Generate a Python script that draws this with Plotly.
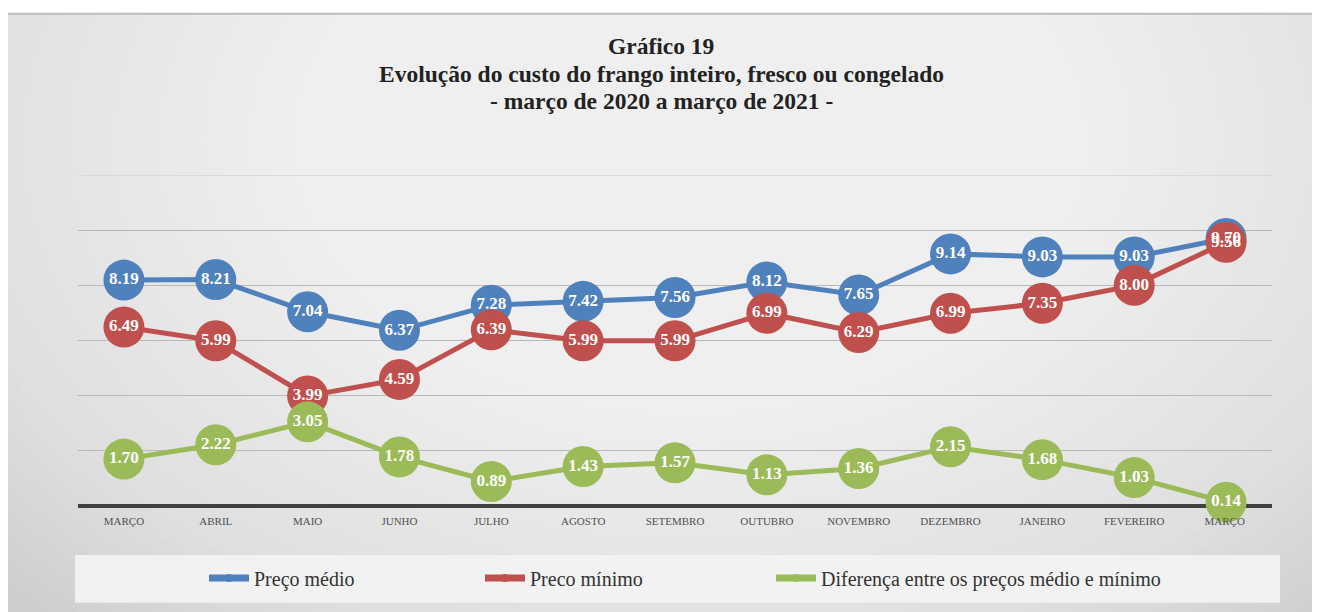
import plotly.graph_objects as go

meses = ["MARÇO", "ABRIL", "MAIO", "JUNHO", "JULHO", "AGOSTO", "SETEMBRO",
         "OUTUBRO", "NOVEMBRO", "DEZEMBRO", "JANEIRO", "FEVEREIRO", "MARÇO "]
preco_medio = [8.19, 8.21, 7.04, 6.37, 7.28, 7.42, 7.56, 8.12, 7.65, 9.14, 9.03, 9.03, 9.70]
preco_minimo = [6.49, 5.99, 3.99, 4.59, 6.39, 5.99, 5.99, 6.99, 6.29, 6.99, 7.35, 8.00, 9.56]
diferenca = [1.70, 2.22, 3.05, 1.78, 0.89, 1.43, 1.57, 1.13, 1.36, 2.15, 1.68, 1.03, 0.14]

nomes = ["Preço médio", "Preco mínimo", "Diferença entre os preços médio e mínimo"]
cores = ["#4f81bd", "#c0504d", "#9bbb59"]
series = [preco_medio, preco_minimo, diferenca]

OFF = 8  # page body margin
W, H = 1320 - OFF, 612 - OFF
# plot area in page pixels
PL, PR, PT, PB = 78, 1272, 174.5, 506
L, R, T, B = PL - OFF, W - (PR - OFF), PT - OFF, H - (PB - OFF)
PW, PH = W - L - R, H - T - B


def px(x):
    return (x - OFF - L) / PW


def py(y):
    return (H - B - (y - OFF)) / PH


FONT = "Liberation Serif"

fig = go.Figure()

for nome, cor, vals in zip(nomes, cores, series):
    fig.add_trace(go.Scatter(
        x=meses, y=vals, mode="lines+markers", name=nome,
        line=dict(color=cor, width=5),
        marker=dict(size=41, color=cor),
        showlegend=False, cliponaxis=False, hoverinfo="skip"))

for nome, cor, vals in zip(nomes, cores, series):
    fig.add_trace(go.Scatter(
        x=meses, y=vals, mode="text", text=[f"{v:.2f}" for v in vals],
        textposition="middle center",
        textfont=dict(family=FONT, size=17, color="white", weight="bold"),
        showlegend=False, cliponaxis=False, hoverinfo="skip"))

legend_ids = ["legend", "legend2", "legend3"]
text_starts = [255, 531, 822]
for nome, cor, lg in zip(nomes, cores, legend_ids):
    fig.add_trace(go.Scatter(
        x=[None], y=[None], mode="lines+markers", name=nome, legend=lg,
        line=dict(color=cor, width=7), marker=dict(size=8, color=cor)))

shapes = []
shapes.append(dict(type="rect", xref="paper", yref="paper", layer="below",
                   x0=px(7), x1=px(1340), y0=py(13), y1=py(630),
                   fillcolor="#cdcdcd", line=dict(width=0)))
n = 40
for i in range(n):
    f = 1 - i / n
    rx, ry = 900 * f + 40, 620 * f + 30
    cx, cy = 690, 140
    shapes.append(dict(type="circle", xref="paper", yref="paper", layer="below",
                       x0=px(cx - rx), x1=px(cx + rx), y0=py(cy - ry), y1=py(cy + ry),
                       fillcolor="rgba(255,255,255,0.06)", line=dict(width=0)))
shapes.append(dict(type="line", xref="paper", yref="paper", layer="below",
                   x0=px(7), x1=px(1340), y0=py(13), y1=py(13),
                   line=dict(color="#bdbdbd", width=2)))
shapes.append(dict(type="rect", xref="paper", yref="paper", layer="below",
                   x0=px(75), x1=px(1280), y0=py(555), y1=py(603),
                   fillcolor="rgba(243,243,243,0.92)", line=dict(width=0)))
# top gridline (at the axis maximum)
shapes.append(dict(type="line", xref="paper", yref="y", layer="below",
                   x0=0, x1=1, y0=12, y1=12, line=dict(color="#d4d4d4", width=1.3)))
shapes.append(dict(type="line", xref="paper", yref="paper", layer="below",
                   x0=0, x1=1, y0=0, y1=0, line=dict(color="#404040", width=4)))

titulos = ["Gráfico 19",
           "Evolução do custo do frango inteiro, fresco ou congelado",
           "- março de 2020 a março de 2021 -"]
ann = []
for t, yy in zip(titulos, [45, 73, 100]):
    ann.append(dict(text=t, xref="paper", yref="paper", x=px(661), y=py(yy),
                    xanchor="center", yanchor="middle", showarrow=False,
                    font=dict(family=FONT, size=23.5, color="#222222", weight="bold")))

layout_legends = {}
for lg, xs in zip(legend_ids, text_starts):
    layout_legends[lg] = dict(
        orientation="h", x=px(xs - 51), xanchor="left", y=py(578), yanchor="middle",
        font=dict(family=FONT, size=20, color="#333333"),
        bgcolor="rgba(0,0,0,0)", itemwidth=40)

fig.update_layout(
    width=W, height=H,
    margin=dict(l=L, r=R, t=T, b=B),
    paper_bgcolor="white", plot_bgcolor="rgba(0,0,0,0)",
    shapes=shapes, annotations=ann,
    xaxis=dict(type="category", range=[-0.5, 12.5], showgrid=False,
               showline=False, zeroline=False, ticks="", ticklabelstandoff=7,
               tickfont=dict(family=FONT, size=11, color="#505050")),
    yaxis=dict(range=[0, 12], dtick=2, showgrid=True, gridcolor="#b8b8b8",
               gridwidth=1.3, showticklabels=False, zeroline=False, showline=False),
    showlegend=True,
    **layout_legends,
)

fig.write_html("out.html")
